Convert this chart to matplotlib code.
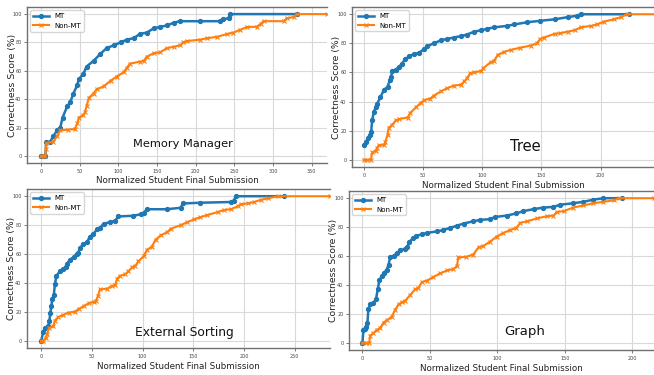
"""Sorted correctness scores of MT vs Non-MT final submissions for four assignments."""

import matplotlib

matplotlib.use("Agg")
import matplotlib.pyplot as plt

MT_COLOR = "#1f77b4"
NON_MT_COLOR = "#ff7f0e"

# Memory Manager
mm_mt_x = [0, 3, 5.6, 7, 12, 16, 21, 25, 28, 34, 38, 42, 47, 49, 55, 59, 68, 77, 85, 94,
           103, 111, 120, 128, 137, 146, 154, 163, 172, 180, 206, 232, 236, 243, 244, 331]
mm_mt_y = [0, 0, 0, 9.5, 10, 14, 18, 20, 27, 35, 38, 44, 50, 54, 58, 63, 67, 72, 76, 78,
           80, 82, 83, 86, 87, 90, 91, 92, 94, 95, 95, 95, 96.5, 97, 100, 100]
mm_non_x = [0, 3, 5.6, 6.5, 7, 16, 21, 25, 35, 44, 47, 49, 55, 57, 59, 62, 68, 72, 81, 90,
            98, 107, 111, 115, 128, 133, 137, 146, 154, 163, 172, 180, 184, 189, 206, 215,
            228, 241, 249, 258, 267, 279, 284, 288, 314, 318, 327, 331, 370]
mm_non_y = [0, 0, 0, 5, 9, 10, 14, 18, 18.5, 19, 23, 27, 29, 31, 35, 41, 44, 47, 49, 53,
            56, 59, 62, 65, 66.5, 67, 70, 72.5, 73, 76, 77, 78, 80, 81, 82, 83,
            84, 86, 87, 89, 91, 91, 93, 95, 95, 97, 98, 100, 100]

# Tree
tree_mt_x = [0, 2, 3.4, 5, 6.2, 7, 8.5, 10, 11, 14, 17, 20, 22, 23, 24, 27, 30, 32, 35, 38,
             42, 46.5, 51, 53.5, 59, 65, 70, 76, 82, 87, 93, 99, 104, 110, 121, 127, 138,
             149, 161, 172, 180, 183, 224]
tree_mt_y = [10, 12, 15, 17, 19, 27, 33, 36, 38, 43, 48, 50, 55, 57, 61, 62, 64, 66, 69, 71,
             72.5, 73.5, 76, 78, 80, 82, 83, 84, 85, 86, 88, 89, 90, 91, 92, 93, 94.5,
             95.5, 96.5, 98, 99, 100, 100]
tree_non_x = [0, 3, 6, 7, 10, 11, 12.7, 17, 18, 20, 21, 24, 27, 30, 37, 39, 44, 48, 51, 56,
              59, 65, 70, 76, 82, 85, 87, 90, 93, 99, 101, 107, 110, 113, 118, 124, 132,
              141, 146, 149, 152, 161, 166, 172, 178, 183, 192, 197, 203, 211, 217, 222, 248]
tree_non_y = [0, 0, 0, 5, 6, 8, 10, 10, 12, 17, 22, 24, 27, 28, 29, 32, 36, 39, 41, 42,
              44, 47, 49, 51, 51.5, 54, 56, 59.5, 60, 61, 63, 67, 68, 72, 74, 75.5, 77,
              78.5, 80, 83, 84, 86.5, 87, 88, 89, 91, 92, 93, 95, 96.5, 98, 100, 100]

# External Sorting
es_mt_x = [0, 2, 3.6, 7, 8, 9, 10, 11, 12.5, 13.5, 15, 18.5, 22, 24.5, 25, 28.4, 32, 35,
           36.7, 38, 41.7, 45, 48, 51.6, 55, 58, 61.5, 68, 73, 76, 91, 98, 101, 104.5, 124,
           137.5, 140, 157, 187, 190, 192, 240]
es_mt_y = [0, 6, 9, 10, 13.5, 19, 24, 29, 32, 39, 45, 48, 50, 51, 53, 56, 58, 60,
           61, 64, 67, 68, 72, 74, 77, 78, 81, 82, 83, 86, 86.5, 87.5, 88.5, 91, 91,
           92, 95, 95.5, 96, 97, 100, 100]
es_non_x = [0, 2, 4.6, 6, 7.6, 12, 13.5, 17, 22, 27, 33, 37, 42, 47, 52, 54, 56, 58, 65,
            70, 73, 75, 78, 83, 86, 90, 93, 96, 101, 104.5, 109, 113, 118, 124, 128, 137.6,
            144, 151, 157, 164, 174, 180.5, 187, 194, 197, 204, 210, 217, 223.5, 233.5, 285]
es_non_y = [0, 0, 2, 5, 9, 10, 14, 16.5, 18, 19.5, 20, 22, 24, 26, 27, 27.5, 31, 35.5, 36,
            38, 38.5, 43, 45, 46, 48, 51, 52, 55, 58.5, 63, 65, 70, 73, 75, 77.5, 80,
            82, 84, 85.5, 87, 89, 90.5, 91, 93, 94.5, 95, 96, 97.5, 98.5, 100, 100]

# Graph
gr_mt_x = [0, 0.7, 2, 2.7, 3.7, 4.4, 5.7, 8, 10, 11.4, 12.6, 14.3, 15.6, 18, 19.3, 20.5, 23,
           25.4, 28, 31.6, 33.3, 34.8, 37.8, 40, 44, 47.7, 55, 60, 65, 70, 75, 82, 87, 94.6,
           98, 107, 114, 119, 127, 134, 141.5, 146.4, 156, 163.7, 171, 178.5, 192]
gr_mt_y = [0, 9, 9.5, 11, 14, 23.5, 26.5, 27.5, 30, 37.5, 43.5, 46, 48, 50.5, 54, 59, 60,
           62, 64, 65, 66.5, 70, 72.5, 74, 75, 76, 77, 78, 79.5, 81, 82.5, 84, 85, 85.5,
           87, 88, 89.5, 91, 92.5, 93.5, 94, 95.5, 96.5, 97.5, 99, 100, 100]
gr_non_x = [0, 2.5, 5, 5.7, 8, 10.6, 13, 15.6, 18, 21.7, 24, 26.7, 29, 31.6, 35.3, 39, 41.5,
            44, 47.7, 52.6, 57.5, 62.5, 67.4, 70, 71, 77, 82, 86, 89.6, 94.6, 99.5, 104.4,
            109.4, 114, 117, 122, 129, 136.5, 141.5, 144, 149, 156, 163.7, 171, 178.5, 186,
            190, 216]
gr_non_y = [0, 0, 0, 5, 6.5, 9, 10, 14, 15.5, 18, 22.5, 26.5, 28, 29, 33, 37, 38,
            42, 43, 45.5, 48, 50, 51, 53, 59, 59.5, 61, 66, 67, 70, 73.5, 76,
            78, 79.5, 83, 84, 86, 87.5, 88, 90.5, 91, 93.5, 95, 96.5, 97.5, 98.5,
            100, 100]

# name, data, axes rect, xlim, x ticks, label text size, label position
panels = [
    ("Memory Manager", (mm_mt_x, mm_mt_y, mm_non_x, mm_non_y),
     [0.0413, 0.5653, 0.4587, 0.416], (-18, 370), range(0, 351, 50), 8.2, (0.52, 0.12)),
    ("Tree", (tree_mt_x, tree_mt_y, tree_non_x, tree_non_y),
     [0.5382, 0.5547, 0.4618, 0.4267], (-10, 245), range(0, 201, 50), 10.5, (0.574, 0.13)),
    ("External Sorting", (es_mt_x, es_mt_y, es_non_x, es_non_y),
     [0.0413, 0.072, 0.4633, 0.424], (-14, 285), range(0, 251, 50), 8.8, (0.52, 0.096)),
    ("Graph", (gr_mt_x, gr_mt_y, gr_non_x, gr_non_y),
     [0.5336, 0.0667, 0.4664, 0.424], (-10, 216), range(0, 201, 50), 9.5, (0.575, 0.115)),
]


def draw_panel(fig, name, data, rect, xlim, xticks, name_size, name_pos):
    mt_x, mt_y, non_x, non_y = data
    ax = fig.add_axes(rect)
    ax.plot(mt_x, mt_y, color=MT_COLOR, marker="o", markersize=2.8, linewidth=1.8, label="MT")
    ax.plot(non_x, non_y, color=NON_MT_COLOR, marker="x", markersize=2.8, markeredgewidth=0.8,
            linewidth=1.5, label="Non-MT")
    ax.set_xlim(*xlim)
    ax.set_ylim(-5, 105)
    ax.set_xticks(list(xticks))
    ax.set_yticks(range(0, 101, 20))
    ax.grid(True, color="#d9d9d9", linewidth=0.8)
    ax.set_axisbelow(True)
    ax.tick_params(labelsize=3.5, length=2, width=0.5, colors="#444444", pad=2)
    for side in ("left", "bottom", "top"):
        ax.spines[side].set_color("#707070")
        ax.spines[side].set_linewidth(1.0)
    ax.spines["right"].set_visible(False)
    ax.set_xlabel("Normalized Student Final Submission", fontsize=6.3, color="#222222")
    ax.set_ylabel("Correctness Score (%)", fontsize=6.7, color="#222222")
    ax.xaxis.set_label_coords(0.5, -0.085)
    ax.yaxis.set_label_coords(-0.035, 0.5)
    ax.legend(loc="upper left", fontsize=5, handlelength=2.2, borderpad=0.4, labelspacing=0.5)
    ax.text(name_pos[0], name_pos[1], name, transform=ax.transAxes, fontsize=name_size,
            ha="center", va="center", color="#111111")
    return ax


def main() -> None:
    fig = plt.figure(figsize=(6.54, 3.75), dpi=100)
    for panel in panels:
        draw_panel(fig, *panel)
    fig.savefig("out.png", dpi=100)


if __name__ == "__main__":
    main()
